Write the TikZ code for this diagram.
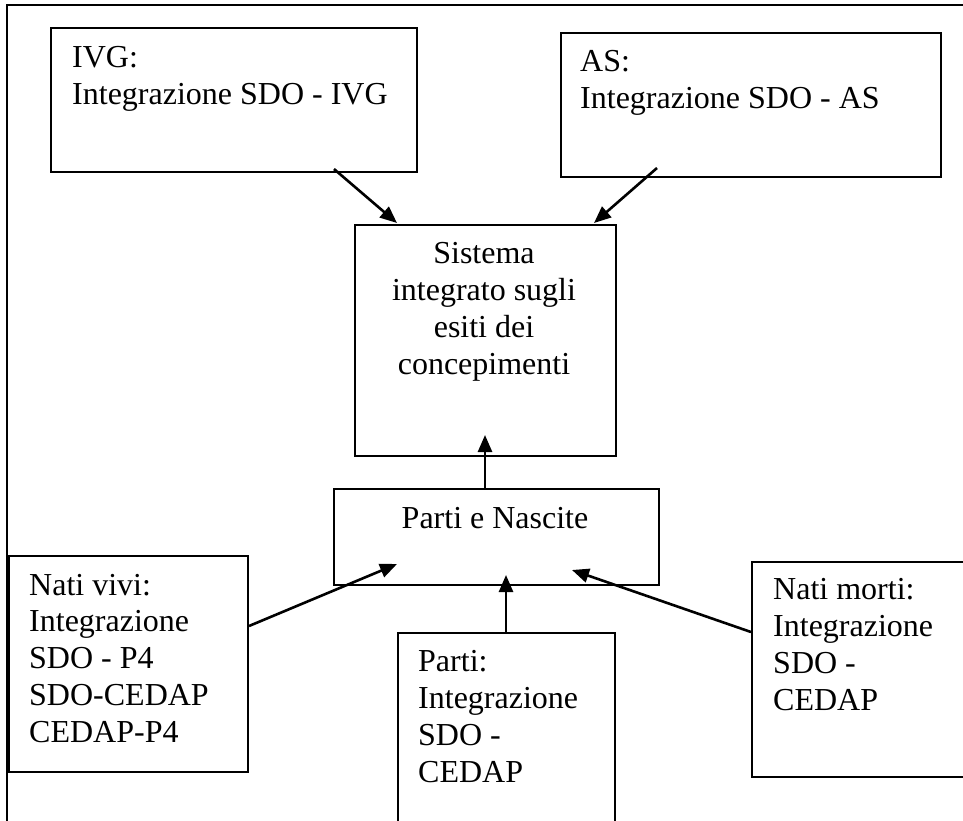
\documentclass[tikz,border=0pt]{standalone}
\usepackage{fontspec}
\setmainfont{Liberation Serif}
\usetikzlibrary{arrows.meta,calc}
\tikzset{
  boxnode/.style={draw=black, line width=2pt, rectangle, inner sep=0pt, anchor=north west},
  txt/.style={inner sep=0pt, align=left, anchor=base west, font=\fontsize{32}{36.7}\selectfont},
  ctxt/.style={inner sep=0pt, align=center, anchor=base, font=\fontsize{32}{36.7}\selectfont},
  arr/.style={line width=2.6pt, -{Triangle[length=17pt,width=14pt]}},
  frameline/.style={line width=2pt}
}
\begin{document}
\begin{tikzpicture}[x=1pt,y=-1pt]
\useasboundingbox (0,0) rectangle (963,820);
\clip (0,0) rectangle (963,820);
% outer frame (only top and left visible)
\draw[frameline] (7,822) -- (7,5) -- (966,5);
% boxes
\node[boxnode, minimum width=366pt, minimum height=144pt] (ivg) at (50,27) {};
\node[boxnode, minimum width=380pt, minimum height=144pt] (as) at (560,32) {};
\node[boxnode, minimum width=261pt, minimum height=231pt] (sis) at (354,224) {};
\node[boxnode, minimum width=325pt, minimum height=96pt] (pn) at (333,488) {};
\node[boxnode, minimum width=239pt, minimum height=216pt] (vivi) at (8,555) {};
\node[boxnode, minimum width=217pt, minimum height=220pt] (parti) at (397,632) {};
\node[boxnode, minimum width=240pt, minimum height=215pt] (morti) at (751,561) {};
% texts (anchored at the baseline of their last line)
\node[txt] (tivg) at (72,104) {IVG:\\Integrazione SDO - IVG};
\node[txt] (tas) at (580,108) {AS:\\Integrazione SDO - AS};
\node[ctxt] (tsis) at (484,374) {Sistema\\integrato sugli\\esiti dei\\concepimenti};
\node[ctxt] (tpn) at (495,528) {Parti e Nascite};
\node[txt] (tvivi) at (29,742) {Nati vivi:\\Integrazione\\SDO - P4\\SDO-CEDAP\\CEDAP-P4};
\node[txt] (tparti) at (418,782) {Parti:\\Integrazione\\SDO -\\CEDAP};
\node[txt] (tmorti) at (773,710) {Nati morti:\\Integrazione\\SDO -\\CEDAP};
% connector end points
\coordinate (ivgout) at ($(ivg.south west)+(284,-4)$);
\coordinate (sisinl) at ($(sis.north west)+(43,-1)$);
\coordinate (asout) at ($(as.south west)+(97,-10)$);
\coordinate (sisinr) at ($(sis.north west)+(240,-1)$);
\coordinate (pnout) at ($(pn.north west)+(152,0)$);
\coordinate (sisinb) at ($(sis.south west)+(131,-22)$);
\coordinate (viviout) at ($(vivi.north east)+(0,71)$);
\coordinate (pninl) at ($(pn.north west)+(64,76)$);
\coordinate (partiout) at ($(parti.north west)+(109,0)$);
\coordinate (pninb) at ($(pn.north west)+(173,87)$);
\coordinate (mortiout) at ($(morti.north west)+(0,71)$);
\coordinate (pninr) at ($(pn.north west)+(239,82)$);
% connectors
\draw[arr] (ivgout) -- (sisinl);
\draw[arr] (asout) -- (sisinr);
\draw[arr] (pnout) -- (sisinb);
\draw[arr] (viviout) -- (pninl);
\draw[arr] (partiout) -- (pninb);
\draw[arr] (mortiout) -- (pninr);
\end{tikzpicture}
\end{document}
